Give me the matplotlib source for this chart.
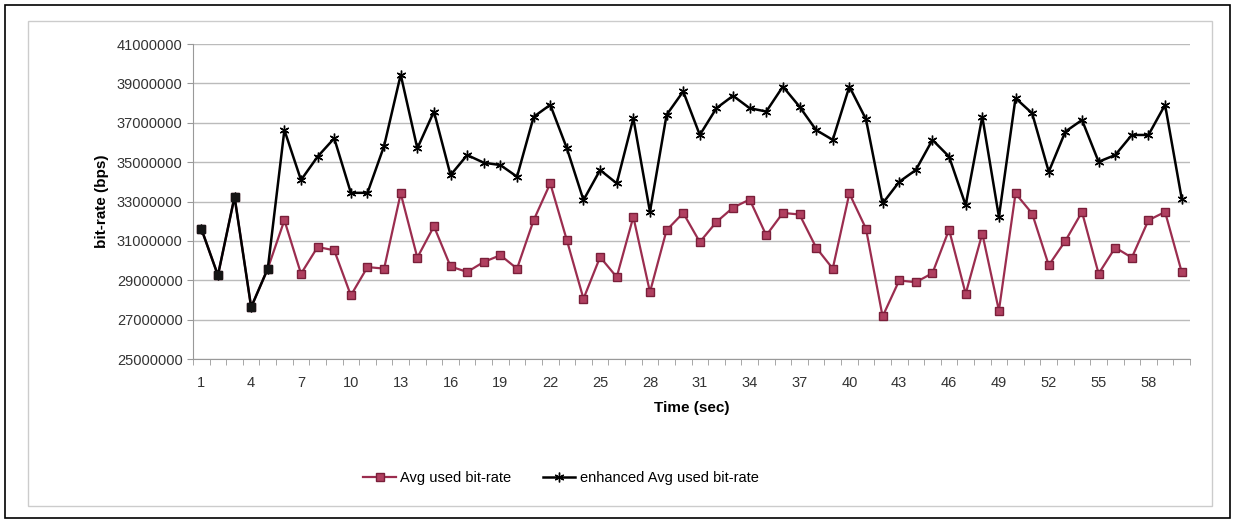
import matplotlib.pyplot as plt
from matplotlib.patches import Rectangle
import numpy as np

# time axis (sec)
seconds = list(range(1, 61))

avg_bitrate = [31.62, 29.25, 33.24, 27.63, 29.59, 32.05, 29.33, 30.69, 30.52, 28.23,
               29.67, 29.59, 33.41, 30.15, 31.74, 29.70, 29.42, 29.93, 30.27, 29.59,
               32.05, 33.92, 31.03, 28.06, 30.18, 29.16, 32.22, 28.40, 31.54, 32.42,
               30.94, 31.96, 32.69, 33.10, 31.28, 32.42, 32.34, 30.66, 29.59, 33.41,
               31.62, 27.16, 28.99, 28.90, 29.36, 31.57, 28.31, 31.37, 27.46, 33.41,
               32.39, 29.76, 31.00, 32.47, 29.33, 30.66, 30.15, 32.05, 32.47, 29.42]

enhanced_bitrate = [31.62, 29.25, 33.24, 27.63, 29.59, 36.63, 34.09, 35.28, 36.21, 33.44,
                    33.44, 35.82, 39.44, 35.70, 37.57, 34.34, 35.36, 34.97, 34.85, 34.26,
                    37.30, 37.91, 35.70, 33.07, 34.60, 33.92, 37.23, 32.47, 37.40, 38.59,
                    36.38, 37.74, 38.37, 37.74, 37.57, 38.84, 37.82, 36.63, 36.13, 38.84,
                    37.18, 32.90, 34.00, 34.60, 36.13, 35.28, 32.81, 37.31, 32.22, 38.25,
                    37.48, 34.51, 36.55, 37.14, 35.02, 35.36, 36.38, 36.38, 37.91, 33.15]

avg_bitrate = [v * 1e6 for v in avg_bitrate]
enhanced_bitrate = [v * 1e6 for v in enhanced_bitrate]

y_ticks = list(range(25000000, 41000001, 2000000))
x_ticks = list(range(1, 61, 3))

plt.rcParams['font.family'] = ['Liberation Sans', 'DejaVu Sans']

fig = plt.figure(figsize=(12.35, 5.23), dpi=100)
W, H = 1235, 523
ax = fig.add_axes([193 / W, 1 - 359 / H, (1190 - 193) / W, (359 - 44) / H])

red = '#9B2D4F'
ax.plot(seconds, avg_bitrate, color=red, linewidth=1.6, marker='s', markersize=5.5,
        markerfacecolor='#B04060', markeredgecolor='#7A1F3A', label='Avg used bit-rate')
ax.plot(seconds, enhanced_bitrate, color='black', linewidth=1.8, marker=(6, 2, 0),
        markersize=7, markeredgewidth=1.0, label='enhanced Avg used bit-rate')

# where both series coincide the squares show up dark under the black line
same = [i for i in range(len(seconds)) if avg_bitrate[i] == enhanced_bitrate[i]]
ax.plot([seconds[i] for i in same], [avg_bitrate[i] for i in same], linestyle='none',
        marker='s', markersize=6, color='#151515')

ax.set_xlim(0.5, 60.5)
ax.set_ylim(25000000, 41000000)
ax.set_yticks(y_ticks)
ax.set_yticklabels([str(v) for v in y_ticks])
ax.set_xticks(x_ticks)
ax.set_xticks(np.arange(0.5, 61, 1), minor=True)
ax.tick_params(axis='x', which='major', length=0, pad=12, labelsize=10.5, colors='#333333')
ax.tick_params(axis='x', which='minor', length=4, color='#999999')
ax.tick_params(axis='y', length=4, color='#999999', labelsize=10.5, colors='#333333')
ax.yaxis.grid(True, color='#BBBBBB', linewidth=1.0)
ax.set_axisbelow(True)
for s in ['top', 'right']:
    ax.spines[s].set_visible(False)
ax.spines['left'].set_color('#999999')
ax.spines['bottom'].set_color('#999999')

ax.set_xlabel('Time (sec)', fontsize=11, fontweight='bold', labelpad=8)
ax.set_ylabel('bit-rate (bps)', fontsize=11, fontweight='bold', labelpad=6)

fig.legend(loc='center', bbox_to_anchor=(561 / W, 1 - 478 / H), ncol=2, frameon=False,
           fontsize=10.5, handlelength=2.2, handletextpad=0.3, columnspacing=2.2)

# chart area and outer frame
fig.patches.append(Rectangle((28 / W, 1 - 506 / H), (1212 - 28) / W, (506 - 21) / H,
                             transform=fig.transFigure, fill=False, edgecolor='#CCCCCC',
                             linewidth=1.0))
fig.patches.append(Rectangle((5 / W, 1 - 518 / H), (1230 - 5) / W, (518 - 5) / H,
                             transform=fig.transFigure, fill=False, edgecolor='black',
                             linewidth=1.2))

fig.savefig('out.png', dpi=100)
